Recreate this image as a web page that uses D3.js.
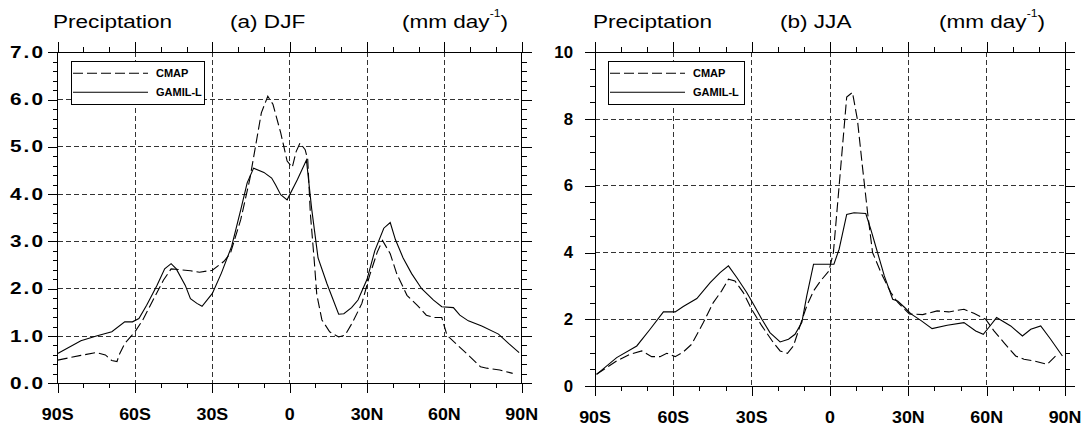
<!DOCTYPE html>
<html>
<head>
<meta charset="utf-8">
<script src="https://cdn.jsdelivr.net/npm/d3@7"></script>
<style>
body { margin: 0; background: #fff; }
svg { display: block; font-family: "Liberation Sans", Arial, sans-serif; }
</style>
</head>
<body>
<script>
// latitude axis
var latTicks = [-90, -60, -30, 0, 30, 60, 90];
var latLabels = ["90S", "60S", "30S", "0", "30N", "60N", "90N"];

// (a) DJF
var djfTicks = [0, 1, 2, 3, 4, 5, 6, 7];
var djfLabels = ["0.0", "1.0", "2.0", "3.0", "4.0", "5.0", "6.0", "7.0"];
var djfCmapLat = [-90, -81, -75, -71.5, -69, -67, -66, -64, -60, -57, -53, -49, -46, -42, -38.5, -35, -30, -25.5, -23, -19,
  -15.5, -11, -8.5, -6.5, -3.5, -1, 1, 2.5, 4, 6, 7, 8, 9.5, 10.5, 12.5, 15.5, 19, 21.5, 24.5, 28,
  31, 34, 36, 39, 41.5, 45.5, 49.5, 53, 56, 59, 61, 65, 70, 74, 76.5, 81.5, 86.5];
var djfCmapVal = [0.49, 0.59, 0.65, 0.6, 0.48, 0.46, 0.62, 0.84, 1.09, 1.34, 1.76, 2.18, 2.42, 2.40, 2.38, 2.35, 2.39, 2.58, 2.75, 3.46,
  4.31, 5.72, 6.07, 5.9, 5.3, 4.7, 4.57, 4.9, 5.08, 4.94, 4.73, 3.6, 2.61, 1.88, 1.34, 1.09, 0.98, 1.02, 1.3, 1.69,
  2.28, 2.78, 3.02, 2.74, 2.32, 1.86, 1.65, 1.44, 1.39, 1.39, 1.02, 0.81, 0.56, 0.35, 0.32, 0.28, 0.21];
var djfGamilLat = [-90, -81, -75, -69, -64, -61, -58.5, -55.5, -51.5, -48.5, -46, -44, -40.5, -38.5, -36, -34, -30, -26.5, -22.5, -19,
  -16.5, -14, -10, -7, -5.5, -3.5, -1, 3, 6.5, 8.5, 11, 14.5, 19, 21, 24, 26.5, 30, 33, 36.5, 39,
  41, 44, 47.3, 51.2, 55.8, 59, 63.5, 66, 69.3, 74.5, 81, 85, 89];
var djfGamilVal = [0.63, 0.9, 1.0, 1.09, 1.3, 1.3, 1.37, 1.65, 2.07, 2.42, 2.53, 2.42, 2.07, 1.79, 1.69, 1.63, 1.9, 2.33, 2.9, 3.67,
  4.24, 4.55, 4.46, 4.34, 4.2, 3.99, 3.88, 4.31, 4.72, 3.7, 2.65, 2.1, 1.46, 1.47, 1.6, 1.76, 2.2, 2.8, 3.28, 3.40,
  3.04, 2.65, 2.32, 2.0, 1.76, 1.62, 1.6, 1.44, 1.32, 1.21, 1.04, 0.84, 0.65];

// (b) JJA
var jjaTicks = [0, 2, 4, 6, 8, 10];
var jjaLabels = ["0", "2", "4", "6", "8", "10"];
var jjaCmapLat = [-89.4, -81.7, -76.6, -72.1, -68.3, -65.1, -62.5, -59.3, -56.2, -53, -48.5, -44.7, -41.5, -38.9, -36.4, -33.2, -30, -26.1, -21.7, -19.1,
  -16.3, -14, -11.5, -8.9, -6.3, -3.6, -0.4, 1.3, 3.5, 6.4, 8.6, 10.5, 12.4, 14.4, 16.3, 19.5, 23.3, 25.9, 30.4, 35.5,
  41, 45.5, 51.3, 55.1, 59.6, 62.8, 66.6, 71.1, 74.3, 78.1, 83.2, 86.4];
var jjaCmapVal = [0.35, 0.75, 0.95, 1.05, 0.88, 0.88, 0.98, 0.88, 1.02, 1.25, 1.9, 2.5, 2.85, 3.2, 3.15, 2.8, 2.3, 1.8, 1.3, 1.05,
  0.98, 1.2, 1.8, 2.4, 2.85, 3.15, 3.45, 4.0, 6.0, 8.66, 8.8, 7.98, 6.59, 5.19, 4.0, 3.4, 2.8, 2.51, 2.16, 2.14,
  2.25, 2.22, 2.3, 2.18, 2.0, 1.65, 1.3, 0.9, 0.8, 0.75, 0.65, 0.9];
var jjaGamilLat = [-89.4, -81.7, -74, -68.9, -63.8, -59.3, -56.2, -51, -45.9, -42.1, -38.9, -35.7, -31.9, -29.3, -26.1, -23, -19.1, -15.9, -13.4, -10.8,
  -8.9, -6.3, 1.5, 3.5, 6.4, 9.2, 13.7, 15.6, 18.2, 20.8, 24, 25.9, 28.5, 31, 34.9, 39.1, 44.9, 51.3, 55.8, 58.7,
  61.5, 63.8, 69.2, 73.7, 76.9, 80.7, 84.5, 89];
var jjaGamilVal = [0.35, 0.85, 1.2, 1.7, 2.22, 2.22, 2.38, 2.62, 3.1, 3.4, 3.6, 3.25, 2.8, 2.45, 2.0, 1.6, 1.32, 1.4, 1.55, 1.9,
  2.7, 3.65, 3.65, 4.1, 5.14, 5.19, 5.17, 4.7, 4.0, 3.3, 2.6, 2.55, 2.36, 2.16, 1.96, 1.72, 1.82, 1.9, 1.65, 1.55,
  1.82, 2.05, 1.8, 1.5, 1.7, 1.8, 1.4, 0.9];

var seriesNames = ["CMAP", "GAMIL-L"];

var svg = d3.select("body").append("svg")
    .attr("width", 1084).attr("height", 428);

function pairs(lat, val) {
    return lat.map(function(d, i) { return [d, val[i]]; });
}

function drawPanel(p) {
    var x = d3.scaleLinear().domain([-90, 90]).range([p.left, p.right]);
    var y = d3.scaleLinear().domain([0, p.yMax]).range([p.bottom, p.top]);
    var g = svg.append("g");

    // grid
    var grid = g.append("g").attr("stroke", "#333").attr("stroke-width", 1)
        .attr("stroke-dasharray", "5,3").attr("shape-rendering", "crispEdges");
    grid.selectAll("line.h").data(p.yTicks.slice(1, -1)).enter().append("line")
        .attr("x1", p.left).attr("x2", p.right)
        .attr("y1", function(d) { return y(d); }).attr("y2", function(d) { return y(d); });
    grid.selectAll("line.v").data(latTicks.slice(1, -1)).enter().append("line")
        .attr("y1", p.top).attr("y2", p.bottom)
        .attr("x1", function(d) { return x(d); }).attr("x2", function(d) { return x(d); });

    // ticks (outward), majors 10px, minors 5px
    var xMinor = d3.range(-90, 91, 10);
    var yMinor = d3.range(0, Math.round(p.yMax / p.yMinor) + 1).map(function(i) { return i * p.yMinor; });
    var axes = [
        [d3.axisBottom, x, latTicks, xMinor, 0, p.bottom],
        [d3.axisTop, x, latTicks, xMinor, 0, p.top],
        [d3.axisLeft, y, p.yTicks, yMinor, p.left, 0],
        [d3.axisRight, y, p.yTicks, yMinor, p.right, 0]
    ];
    axes.forEach(function(a) {
        [[a[2], 10], [a[3], 5]].forEach(function(t) {
            g.append("g").attr("transform", "translate(" + a[4] + "," + a[5] + ")")
                .attr("shape-rendering", "crispEdges")
                .call(a[0](a[1]).tickValues(t[0]).tickSize(t[1]).tickSizeOuter(0).tickFormat(""))
                .call(function(s) { s.select(".domain").remove(); });
        });
    });

    // frame
    g.append("rect").attr("x", p.left).attr("y", p.top)
        .attr("width", p.right - p.left).attr("height", p.bottom - p.top)
        .attr("fill", "none").attr("stroke", "#000").attr("shape-rendering", "crispEdges");

    // data
    var line = d3.line().x(function(d) { return x(d[0]); }).y(function(d) { return y(d[1]); });
    g.append("path").datum(pairs(p.cmapLat, p.cmapVal)).attr("d", line)
        .attr("fill", "none").attr("stroke", "#000").attr("stroke-width", 1.1).attr("stroke-dasharray", "10,4");
    g.append("path").datum(pairs(p.gamilLat, p.gamilVal)).attr("d", line)
        .attr("fill", "none").attr("stroke", "#000").attr("stroke-width", 1.1);

    // y labels
    p.yTicks.forEach(function(d, i) {
        g.append("text")
            .attr("transform", "translate(" + (p.yLabelRight + p.yLs * p.ySx) + "," + (y(d) + 5.5) + ") scale(" + p.ySx + ",1)")
            .attr("text-anchor", "end").attr("letter-spacing", p.yLs)
            .attr("font-size", 16).attr("font-weight", "bold").text(p.yLabels[i]);
    });

    // x labels
    latTicks.forEach(function(d, i) {
        g.append("text")
            .attr("transform", "translate(" + x(d) + "," + (p.bottom + 37) + ") scale(1.05,1)")
            .attr("text-anchor", "middle").attr("font-size", 17).attr("font-weight", "bold")
            .text(latLabels[i]);
    });

    // titles
    var tg = g.append("g").attr("font-size", 18.5);
    tg.append("text").attr("transform", "translate(" + p.t1 + ",27.5) scale(1.22,1)").text("Preciptation");
    tg.append("text").attr("transform", "translate(" + p.t2 + ",27.5) scale(1.22,1)").text(p.title);
    var u = tg.append("text").attr("transform", "translate(" + p.t3 + ",27.5) scale(1.22,1)")
        .attr("text-anchor", "end");
    u.append("tspan").text("(mm day");
    u.append("tspan").attr("font-size", 10).attr("dy", -11).text("-1");
    u.append("tspan").attr("dy", 11).text(")");

    // legend
    var lg = g.append("g");
    lg.append("rect").attr("x", p.lx).attr("y", 61).attr("width", p.lw).attr("height", 43.5)
        .attr("fill", "#fff").attr("stroke", "#000").attr("shape-rendering", "crispEdges");
    seriesNames.forEach(function(name, i) {
        var ly = 73.3 + i * 19;
        lg.append("line").attr("x1", p.lx + 2).attr("x2", p.lx + 77).attr("y1", ly).attr("y2", ly)
            .attr("stroke", "#000").attr("stroke-width", 1.1)
            .attr("stroke-dasharray", i === 0 ? "10,4" : null);
        lg.append("text").attr("x", p.lx + 85).attr("y", ly + 4)
            .attr("font-size", 11).attr("font-weight", "bold").text(name);
    });
}

drawPanel({
    left: 57.7, right: 521.7, top: 52.3, bottom: 383.3, yMax: 7, yMinor: 0.2,
    yTicks: djfTicks, yLabels: djfLabels, yLabelRight: 43, ySx: 1.3, yLs: 1.6,
    cmapLat: djfCmapLat, cmapVal: djfCmapVal, gamilLat: djfGamilLat, gamilVal: djfGamilVal,
    title: "(a) DJF", t1: 53, t2: 230, t3: 508, lx: 71, lw: 133
});

drawPanel({
    left: 595, right: 1065, top: 52.3, bottom: 386, yMax: 10, yMinor: 0.5,
    yTicks: jjaTicks, yLabels: jjaLabels, yLabelRight: 573, ySx: 1.05, yLs: 0,
    cmapLat: jjaCmapLat, cmapVal: jjaCmapVal, gamilLat: jjaGamilLat, gamilVal: jjaGamilVal,
    title: "(b) JJA", t1: 593, t2: 780, t3: 1045, lx: 608, lw: 136
});
</script>
</body>
</html>
